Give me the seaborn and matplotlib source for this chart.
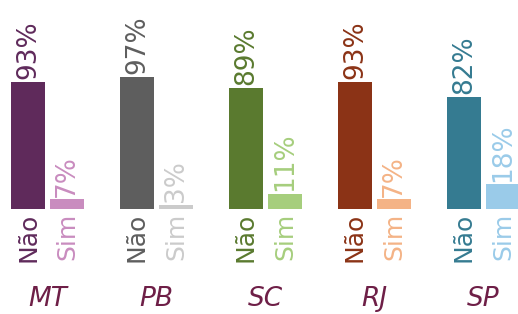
import pandas as pd
import matplotlib.pyplot as plt
import seaborn as sns

# data
states = ['MT', 'PB', 'SC', 'RJ', 'SP']
nao = [93, 97, 89, 93, 82]
sim = [7, 3, 11, 7, 18]
answers = ['Não', 'Sim']
nao_colors = ['#5f2a5b', '#5e5e5e', '#5a7a2f', '#8b3316', '#357b91']
sim_colors = ['#c98cbf', '#cbcbcb', '#a6ce7d', '#f4b386', '#9acbe9']
state_color = '#6e1f47'

# long table, one row per bar
rows = []
for i, st in enumerate(states):
    rows.append({'key': st + '_Não', 'answer': 'Não', 'pos': i - 0.179,
                 'value': nao[i], 'color': nao_colors[i], 'state': st})
    rows.append({'key': st + '_Sim', 'answer': 'Sim', 'pos': i + 0.179,
                 'value': sim[i], 'color': sim_colors[i], 'state': st})
df = pd.DataFrame(rows)

sns.set_style('white')
plt.rcParams['font.family'] = ['DejaVu Sans']

fig = plt.figure(figsize=(5.18, 3.14), dpi=100)
ax = fig.add_axes([0, 0, 1, 1])

# in native scale the width is relative to the closest bar spacing (0.358)
sns.barplot(data=df, x='pos', y='value', hue='key', native_scale=True,
            palette=dict(zip(df['key'], df['color'])), dodge=False,
            width=0.88, legend=False, ax=ax, saturation=1, linewidth=0)

ax.set_xlim(-0.436, 4.317)
ax.set_ylim(-76.9, 153.1)

for _, r in df.iterrows():
    ax.annotate(f"{r['value']}%", (r['pos'], r['value']), xytext=(0, 2),
                textcoords='offset points', rotation=90, ha='center', va='bottom',
                fontsize=19, color=r['color'])
    ax.annotate(r['answer'], (r['pos'], 0), xytext=(0, -3),
                textcoords='offset points', rotation=90, ha='center', va='top',
                fontsize=18, color=r['color'])

for i, st in enumerate(states):
    ax.text(i, -66, st, ha='center', va='center', fontsize=19,
            style='italic', color=state_color)

ax.axis('off')
fig.savefig('out.png', dpi=100)
